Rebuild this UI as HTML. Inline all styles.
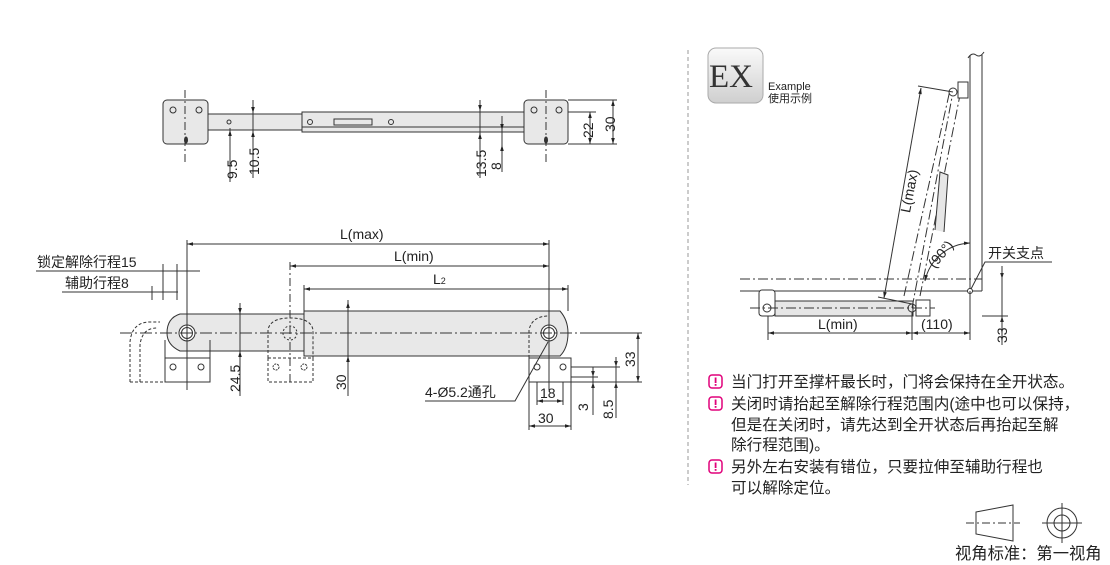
<!DOCTYPE html>
<html><head><meta charset="utf-8"><style>
html,body{margin:0;padding:0;background:#fff;}
svg{display:block;font-family:"Liberation Sans","Noto Sans CJK SC",sans-serif;}
</style></head><body>
<svg width="1110" height="565" viewBox="0 0 1110 565" xmlns="http://www.w3.org/2000/svg">
<defs>
<marker id="a" viewBox="0 0 10 10" refX="10" refY="5" markerWidth="8" markerHeight="6" orient="auto-start-reverse"><path d="M0,2 L10,5 L0,8 z" fill="#222"/></marker>
<linearGradient id="g" x1="0" y1="0" x2="0" y2="1"><stop offset="0" stop-color="#fafafa"/><stop offset="1" stop-color="#cfcfcf"/></linearGradient>
</defs>
<g stroke="#333" stroke-width="1" fill="none">
<!-- TOP VIEW -->
<rect x="163" y="100" width="45" height="44" rx="4" fill="#e8e8e8"/>
<rect x="524" y="100" width="44" height="44" rx="4" fill="#e8e8e8"/>
<rect x="208" y="114" width="94" height="16" fill="#e8e8e8"/>
<rect x="302" y="112" width="222" height="20" fill="#e8e8e8"/>
<line x1="302" y1="127" x2="524" y2="127"/>
<rect x="334" y="119" width="38" height="6"/>
<line x1="185" y1="90" x2="185" y2="162" stroke-dasharray="8,3,2,3"/>
<line x1="546" y1="90" x2="546" y2="162" stroke-dasharray="8,3,2,3"/>
<circle cx="173" cy="110" r="3"/><circle cx="199" cy="110" r="3"/>
<circle cx="534" cy="110" r="3"/><circle cx="559" cy="110" r="3"/>
<circle cx="310" cy="122" r="2.5"/><circle cx="391" cy="122" r="2.5"/>
<circle cx="229" cy="122" r="2"/>
<ellipse cx="186" cy="140" rx="1.5" ry="3" fill="#333"/><ellipse cx="546" cy="140" rx="1.5" ry="3" fill="#333"/>
<!-- top dims -->
<line x1="230" y1="128" x2="230" y2="182"/><line x1="230" y1="150" x2="230" y2="130" marker-end="url(#a)"/>
<line x1="253" y1="100" x2="253" y2="178"/><line x1="253" y1="104" x2="253" y2="113" marker-end="url(#a)"/><line x1="253" y1="142" x2="253" y2="131" marker-end="url(#a)"/>
<line x1="480" y1="100" x2="480" y2="178"/><line x1="480" y1="102" x2="480" y2="111" marker-end="url(#a)"/><line x1="480" y1="142" x2="480" y2="133" marker-end="url(#a)"/>
<line x1="502" y1="120" x2="502" y2="172"/><line x1="502" y1="116" x2="502" y2="130" marker-end="url(#a)"/><line x1="502" y1="160" x2="502" y2="145" marker-end="url(#a)"/>
<line x1="568" y1="100" x2="617" y2="100"/><line x1="568" y1="144" x2="617" y2="144"/><line x1="568" y1="112" x2="596" y2="112"/>
<line x1="590" y1="112" x2="590" y2="144" marker-start="url(#a)" marker-end="url(#a)"/>
<line x1="613" y1="100" x2="613" y2="144" marker-start="url(#a)" marker-end="url(#a)"/>
<!-- FRONT VIEW -->
<path d="M180,314 L305,314 L305,351 L180,351 Q167,345 167,333 Q167,318 180,314 Z" fill="#e8e8e8"/>
<path d="M304,311 L560,311 Q568,320 568,333 Q568,348 560,356 L304,356 Z" fill="#e8e8e8"/>
<rect x="165" y="358" width="45" height="24" fill="#fff"/>
<path d="M165,358 L165,340 M210,358 L210,340"/>
<rect x="529" y="358" width="42" height="24" fill="#fff"/>
<g stroke-dasharray="3,2"><rect x="268" y="358" width="45" height="24"/><path d="M268,358 L268,330 Q270,318 290,318 Q311,318 313,330 L313,358"/>
<path d="M130,382 L130,342 Q132,322 150,322 L160,322 M140,382 L140,345 Q142,328 157,328 M130,382 L165,382"/>
<path d="M529,358 L529,330 Q532,316 549,316"/></g>
<circle cx="187" cy="333" r="8" fill="#fff"/><circle cx="187" cy="333" r="5.5"/>
<circle cx="290" cy="333" r="7" stroke-dasharray="2,2"/>
<circle cx="549" cy="333" r="8" fill="#fff"/><circle cx="549" cy="333" r="5.5"/>
<circle cx="173" cy="367" r="3"/><circle cx="201" cy="367" r="3"/>
<circle cx="537" cy="367" r="3"/><circle cx="563" cy="367" r="3"/>
<circle cx="276" cy="367" r="3" stroke-dasharray="2,1"/><circle cx="304" cy="367" r="3" stroke-dasharray="2,1"/>
<line x1="120" y1="333" x2="640" y2="333" stroke-dasharray="12,3,2,3"/>
<line x1="187" y1="240" x2="187" y2="390"/><line x1="290" y1="262" x2="290" y2="385" stroke-dasharray="8,3,2,3"/>
<line x1="549" y1="240" x2="549" y2="390"/><line x1="304" y1="285" x2="304" y2="311"/><line x1="568" y1="285" x2="568" y2="311"/>
<line x1="187" y1="244" x2="549" y2="244" marker-start="url(#a)" marker-end="url(#a)"/>
<line x1="290" y1="266" x2="549" y2="266" marker-start="url(#a)" marker-end="url(#a)"/>
<line x1="304" y1="289" x2="568" y2="289" marker-start="url(#a)" marker-end="url(#a)"/>
<line x1="36" y1="271" x2="200" y2="271"/><line x1="163" y1="264" x2="163" y2="300"/><line x1="177" y1="264" x2="177" y2="300"/>
<line x1="62" y1="292" x2="178" y2="292"/><line x1="152" y1="286" x2="152" y2="300"/>
<line x1="240" y1="303" x2="240" y2="396"/><line x1="240" y1="306" x2="240" y2="314" marker-end="url(#a)"/><line x1="240" y1="361" x2="240" y2="351" marker-end="url(#a)"/>
<line x1="348" y1="300" x2="348" y2="396"/><line x1="348" y1="302" x2="348" y2="311" marker-start="url(#a)"/><line x1="348" y1="366" x2="348" y2="356" marker-end="url(#a)"/>
<line x1="571" y1="382" x2="642" y2="382"/><line x1="580" y1="333" x2="642" y2="333"/><line x1="571" y1="367" x2="620" y2="367"/><line x1="571" y1="377" x2="598" y2="377"/>
<line x1="638" y1="333" x2="638" y2="382" marker-start="url(#a)" marker-end="url(#a)"/>
<line x1="616" y1="357" x2="616" y2="367" marker-end="url(#a)"/><line x1="616" y1="392" x2="616" y2="382" marker-end="url(#a)"/><line x1="616" y1="357" x2="616" y2="418"/>
<line x1="593" y1="367" x2="593" y2="377" marker-end="url(#a)"/><line x1="593" y1="392" x2="593" y2="382" marker-end="url(#a)"/><line x1="593" y1="367" x2="593" y2="415"/>
<line x1="537" y1="382" x2="537" y2="405"/><line x1="563" y1="382" x2="563" y2="405"/><line x1="529" y1="382" x2="529" y2="430"/><line x1="571" y1="382" x2="571" y2="430"/>
<line x1="537" y1="401" x2="563" y2="401" marker-start="url(#a)" marker-end="url(#a)"/>
<line x1="529" y1="426" x2="571" y2="426" marker-start="url(#a)" marker-end="url(#a)"/>
<polyline points="425,401 515,401 548,342"/>
<!-- separator -->
<line x1="688" y1="50" x2="688" y2="485" stroke="#999" stroke-dasharray="4,3"/>
<!-- EXAMPLE -->
<rect x="708" y="48" width="55" height="55" rx="8" fill="url(#g)" stroke="#aaa"/>
<path d="M970,55 L970,291 M982,55 L982,291 M968,58 Q972,52 976,55 Q980,58 984,52" />
<line x1="740" y1="279" x2="982" y2="279" stroke-dasharray="10,3,2,3"/>
<line x1="740" y1="291" x2="982" y2="291"/>
<rect x="775" y="301" width="138" height="15" fill="#e6e6e6"/>
<rect x="759" y="290" width="16" height="26" rx="3" fill="#fff"/>
<rect x="916" y="300" width="14" height="16" fill="#fff"/>
<circle cx="767" cy="308" r="4"/><circle cx="912" cy="308" r="4"/>
<line x1="750" y1="308" x2="935" y2="308" stroke-dasharray="10,3,2,3"/>
<g stroke-dasharray="10,3,2,3"><line x1="904" y1="296" x2="950" y2="90"/><line x1="920" y1="296" x2="960" y2="95"/><line x1="912" y1="308" x2="953" y2="92"/></g>
<path d="M935,230 L940,172 L948,175 L944,232" fill="#e6e6e6"/>
<rect x="958" y="82" width="10" height="16" fill="#fff"/><circle cx="953" cy="92" r="4" fill="#fff"/>
<line x1="878" y1="297" x2="912" y2="304"/><line x1="918" y1="86" x2="953" y2="92"/>
<line x1="884" y1="298" x2="921" y2="88" marker-start="url(#a)" marker-end="url(#a)"/>
<path d="M925,281 A48,48 0 0 1 970,243" marker-start="url(#a)" marker-end="url(#a)"/>
<polyline points="970,291 985,262 1052,262"/><circle cx="970" cy="291" r="2.5" fill="#fff"/>
<line x1="768" y1="316" x2="768" y2="340"/><line x1="912" y1="312" x2="912" y2="340"/><line x1="970" y1="291" x2="970" y2="340"/>
<line x1="768" y1="333" x2="912" y2="333" marker-start="url(#a)" marker-end="url(#a)"/>
<line x1="912" y1="333" x2="970" y2="333" marker-start="url(#a)" marker-end="url(#a)"/>
<line x1="982" y1="316" x2="1008" y2="316"/>
<line x1="1002" y1="266" x2="1002" y2="279" marker-end="url(#a)"/><line x1="1002" y1="330" x2="1002" y2="316" marker-end="url(#a)"/><line x1="1002" y1="266" x2="1002" y2="345"/>
<!-- projection symbol -->
<path d="M976,512 L1013,505 L1013,541 L976,534 Z"/>
<line x1="966" y1="523" x2="1020" y2="523" stroke-dasharray="8,3,2,3"/>
<circle cx="1062" cy="523" r="15"/><circle cx="1062" cy="523" r="8"/>
<line x1="1042" y1="523" x2="1082" y2="523"/><line x1="1062" y1="503" x2="1062" y2="543"/>
</g>
<g fill="#222" font-size="14">
<text x="217" y="181" transform="rotate(-90 226 170)">9.5</text>
<text x="240" y="176" transform="rotate(-90 249 166)">10.5</text>
<text x="467" y="178" transform="rotate(-90 476 168)">13.5</text>
<text x="493" y="170" transform="rotate(-90 497 166)">8</text>
<text x="576" y="135" transform="rotate(-90 586 128)">22</text>
<text x="598" y="129" transform="rotate(-90 608 122)">30</text>
<text x="340" y="239" font-size="14">L(max)</text>
<text x="394" y="261">L(min)</text>
<text x="433" y="284">L<tspan font-size="9">2</tspan></text>
<text x="37" y="267">锁定解除行程15</text>
<text x="65" y="288">辅助行程8</text>
<text x="222" y="390" transform="rotate(-90 232 382)">24.5</text>
<text x="334" y="390" transform="rotate(-90 340 384)">30</text>
<text x="618" y="364" transform="rotate(-90 628 357)">33</text>
<text x="596" y="418" transform="rotate(-90 605 410)">8.5</text>
<text x="578" y="409" transform="rotate(-90 584 405)">3</text>
<text x="540" y="398">18</text>
<text x="538" y="423">30</text>
<text x="425" y="397">4-Ø5.2通孔</text>
<text x="709" y="87" font-family="Liberation Serif,serif" font-size="33" fill="#333">EX</text>
<text x="768" y="90" font-size="11">Example</text>
<text x="768" y="102" font-size="11">使用示例</text>
<text x="870" y="205" transform="rotate(-79 895 185)">L(max)</text>
<text x="922" y="258" transform="rotate(-50 940 250)">(90°)</text>
<text x="988" y="258">开关支点</text>
<text x="818" y="329">L(min)</text>
<text x="921" y="329">(110)</text>
<text x="990" y="340" transform="rotate(-90 1000 333)">33</text>
</g>
<g font-size="15.6" fill="#222">
<g fill="none" stroke="#e0007a" stroke-width="1.5">
<rect x="709" y="375" width="13" height="13" rx="3"/><rect x="709" y="397" width="13" height="13" rx="3"/><rect x="709" y="460" width="13" height="13" rx="3"/></g>
<g fill="#e0007a"><rect x="714.7" y="377.5" width="1.8" height="5.5"/><rect x="714.7" y="384" width="1.8" height="1.8"/>
<rect x="714.7" y="399.5" width="1.8" height="5.5"/><rect x="714.7" y="406" width="1.8" height="1.8"/>
<rect x="714.7" y="462.5" width="1.8" height="5.5"/><rect x="714.7" y="469" width="1.8" height="1.8"/></g>
<text x="731" y="387">当门打开至撑杆最长时，门将会保持在全开状态。</text>
<text x="731" y="409">关闭时请抬起至解除行程范围内(途中也可以保持，</text>
<text x="731" y="430">但是在关闭时，请先达到全开状态后再抬起至解</text>
<text x="731" y="450">除行程范围)。</text>
<text x="731" y="472">另外左右安装有错位，只要拉伸至辅助行程也</text>
<text x="731" y="493">可以解除定位。</text>
<text x="955" y="559" font-size="16.3">视角标准：第一视角</text>
</g>
</svg>
</body></html>
